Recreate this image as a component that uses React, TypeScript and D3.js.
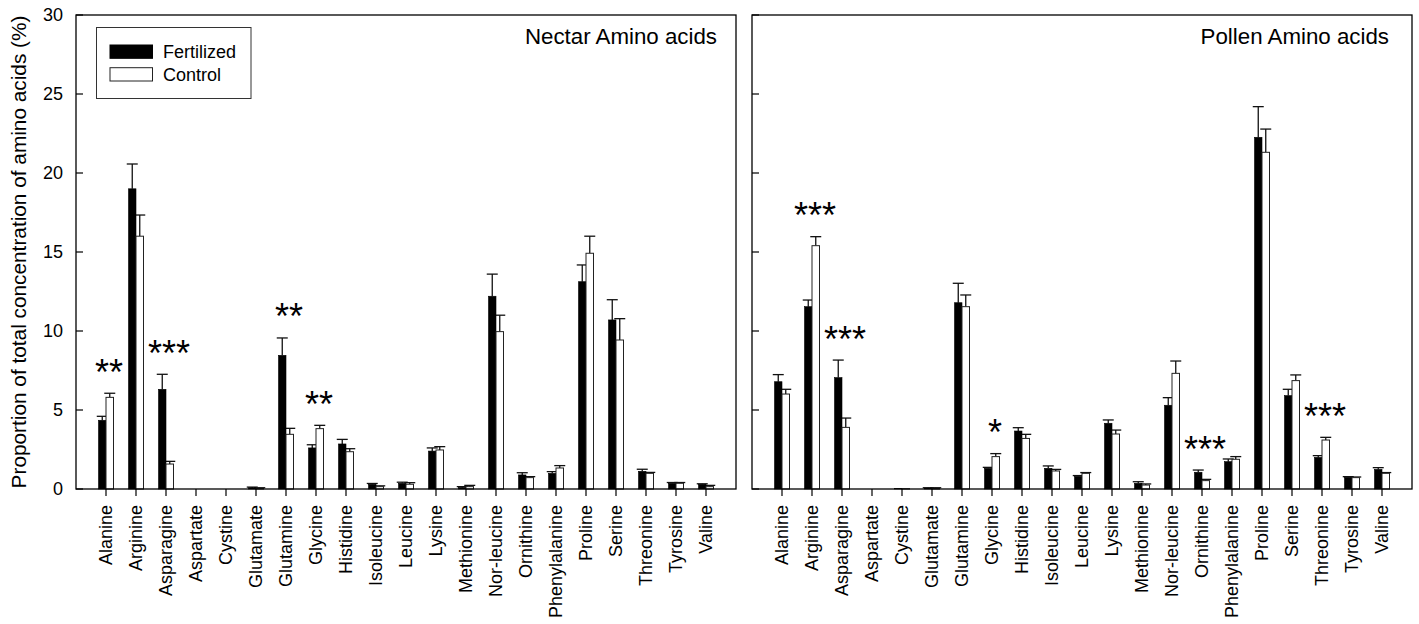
import React from "react";
import * as d3 from "d3";

const categories = [
  "Alanine", "Arginine", "Asparagine", "Aspartate", "Cystine", "Glutamate", "Glutamine",
  "Glycine", "Histidine", "Isoleucine", "Leucine", "Lysine", "Methionine", "Nor-leucine",
  "Ornithine", "Phenylalanine", "Proline", "Serine", "Threonine", "Tyrosine", "Valine",
];

const nectarFertilized = [4.35, 19.0, 6.31, 0, 0, 0.08, 8.46, 2.6, 2.85, 0.3, 0.36, 2.4, 0.1, 12.2, 0.89, 0.99, 13.12, 10.7, 1.12, 0.36, 0.3];
const nectarFertilizedErr = [0.25, 1.57, 0.95, 0, 0, 0.04, 1.1, 0.2, 0.29, 0.05, 0.07, 0.2, 0.05, 1.4, 0.14, 0.11, 1.06, 1.28, 0.13, 0.05, 0.03];
const nectarControl = [5.8, 16.0, 1.58, 0, 0, 0.05, 3.46, 3.82, 2.36, 0.15, 0.3, 2.47, 0.15, 9.96, 0.72, 1.33, 14.92, 9.43, 0.99, 0.36, 0.15];
const nectarControlErr = [0.26, 1.34, 0.17, 0, 0, 0.03, 0.38, 0.21, 0.19, 0.05, 0.1, 0.21, 0.08, 1.04, 0.06, 0.15, 1.08, 1.35, 0.06, 0.05, 0.08];

const pollenFertilized = [6.79, 11.54, 7.05, 0, 0.02, 0.05, 11.79, 1.31, 3.67, 1.31, 0.8, 4.16, 0.36, 5.3, 1.06, 1.73, 22.26, 5.91, 2.0, 0.74, 1.24];
const pollenFertilizedErr = [0.45, 0.42, 1.11, 0, 0, 0.03, 1.23, 0.06, 0.21, 0.15, 0.05, 0.21, 0.1, 0.48, 0.14, 0.17, 1.94, 0.4, 0.11, 0.04, 0.11];
const pollenControl = [6.01, 15.4, 3.9, 0, 0.02, 0.05, 11.54, 2.05, 3.2, 1.14, 0.99, 3.48, 0.25, 7.32, 0.53, 1.88, 21.31, 6.86, 3.1, 0.72, 0.99];
const pollenControlErr = [0.3, 0.57, 0.59, 0, 0, 0.03, 0.74, 0.19, 0.26, 0.1, 0.05, 0.25, 0.07, 0.78, 0.08, 0.17, 1.47, 0.36, 0.17, 0.04, 0.05];

const nectarStars = [
  { cat: "Alanine", label: "**" },
  { cat: "Asparagine", label: "***" },
  { cat: "Glutamine", label: "**" },
  { cat: "Glycine", label: "**" },
];
const pollenStars = [
  { cat: "Arginine", label: "***" },
  { cat: "Asparagine", label: "***" },
  { cat: "Glycine", label: "*" },
  { cat: "Ornithine", label: "***" },
  { cat: "Threonine", label: "***" },
];

const yTicks = [0, 5, 10, 15, 20, 25, 30];
const seriesNames = ["Fertilized", "Control"];

const FONT = "'Liberation Sans', Arial, Helvetica, sans-serif";
const TOP = 15;
const BOTTOM = 489;

const y = d3.scaleLinear().domain([0, 30]).range([BOTTOM, TOP]);

type PanelProps = {
  x0: number;
  x1: number;
  title: string;
  titleX: number;
  fert: number[];
  fertErr: number[];
  ctrl: number[];
  ctrlErr: number[];
  stars: { cat: string; label: string }[];
  showYLabels: boolean;
};

function Panel({ x0, x1, title, titleX, fert, fertErr, ctrl, ctrlErr, stars, showYLabels }: PanelProps) {
  const x = d3.scaleLinear().domain([0, categories.length + 1]).range([x0, x1]);
  const step = x(1) - x(0);
  const bw = step * 0.25;
  const cap = 5.5;
  const errBar = (cx: number, v: number, e: number, key: string) => {
    if (e <= 0) return null;
    return (
      <g key={key} stroke="#111" strokeWidth={1.3}>
        <line x1={cx} x2={cx} y1={y(v)} y2={y(v + e)} />
        <line x1={cx - cap} x2={cx + cap} y1={y(v + e)} y2={y(v + e)} />
      </g>
    );
  };
  return (
    <g>
      {categories.map((c, i) => {
        const cx = x(i + 1);
        return (
          <g key={c}>
            {errBar(cx - bw / 2, fert[i], fertErr[i], "ef")}
            {errBar(cx + bw / 2, ctrl[i], ctrlErr[i], "ec")}
            {fert[i] > 0 && (
              <rect x={cx - bw} y={y(fert[i])} width={bw} height={y(0) - y(fert[i])} fill="#000" stroke="#000" strokeWidth={0.6} />
            )}
            {ctrl[i] > 0 && (
              <rect x={cx} y={y(ctrl[i])} width={bw} height={y(0) - y(ctrl[i])} fill="#fff" stroke="#222" strokeWidth={1} />
            )}
          </g>
        );
      })}
      {stars.map((s) => {
        const i = categories.indexOf(s.cat);
        const top = Math.max(fert[i] + fertErr[i], ctrl[i] + ctrlErr[i]);
        const cy = y(top) - 29;
        return (
          <text key={s.cat} x={x(i + 1) + 3} y={cy + 20.5} fontSize={36} fontFamily={FONT} textAnchor="middle" fill="#000">
            {s.label}
          </text>
        );
      })}
      <rect x={x0} y={TOP} width={x1 - x0} height={BOTTOM - TOP} fill="none" stroke="#000" strokeWidth={1.3} />
      {yTicks.map((t) => (
        <g key={t}>
          <line x1={x0} x2={x0 + 7} y1={y(t)} y2={y(t)} stroke="#000" strokeWidth={1.2} />
          {showYLabels && (
            <text x={x0 - 13} y={y(t)} dy="0.35em" textAnchor="end" fontSize={18} fontFamily={FONT} fill="#000">
              {t}
            </text>
          )}
        </g>
      ))}
      {categories.map((c, i) => (
        <g key={"t" + c}>
          <line x1={x(i + 1)} x2={x(i + 1)} y1={BOTTOM} y2={BOTTOM + 7} stroke="#000" strokeWidth={1.2} />
          <text
            transform={`translate(${x(i + 1)},505) rotate(-90)`}
            dy="0.36em"
            textAnchor="end"
            fontSize={18}
            fontFamily={FONT}
            fill="#000"
          >
            {c}
          </text>
        </g>
      ))}
      <text x={titleX} y={44} textAnchor="end" fontSize={22.3} fontFamily={FONT} fill="#000">
        {title}
      </text>
    </g>
  );
}

export default function App() {
  return (
    <svg width={1419} height={624} style={{ position: "absolute", left: 0, top: 0, background: "#fff" }}>
      <rect width={1419} height={624} fill="#fff" />
      <Panel
        x0={76}
        x1={736}
        title="Nectar Amino acids"
        titleX={717}
        fert={nectarFertilized}
        fertErr={nectarFertilizedErr}
        ctrl={nectarControl}
        ctrlErr={nectarControlErr}
        stars={nectarStars}
        showYLabels={true}
      />
      <Panel
        x0={752}
        x1={1412}
        title="Pollen Amino acids"
        titleX={1389}
        fert={pollenFertilized}
        fertErr={pollenFertilizedErr}
        ctrl={pollenControl}
        ctrlErr={pollenControlErr}
        stars={pollenStars}
        showYLabels={false}
      />
      <text
        transform={`translate(26,${(TOP + BOTTOM) / 2}) rotate(-90)`}
        textAnchor="middle"
        fontSize={20.8}
        fontFamily={FONT}
        fill="#000"
      >
        Proportion of total concentration of amino acids (%)
      </text>
      <g>
        <rect x={96.5} y={27.5} width={154.5} height={71} fill="#fff" stroke="#333" strokeWidth={1} />
        {seriesNames.map((s, i) => (
          <g key={s}>
            <rect
              x={110}
              y={45 + i * 22.7}
              width={42.5}
              height={13.3}
              fill={i === 0 ? "#000" : "#fff"}
              stroke={i === 0 ? "#000" : "#222"}
              strokeWidth={1}
            />
            <text x={163} y={58.3 + i * 22.7} fontSize={18} fontFamily={FONT} fill="#000">
              {s}
            </text>
          </g>
        ))}
      </g>
    </svg>
  );
}
